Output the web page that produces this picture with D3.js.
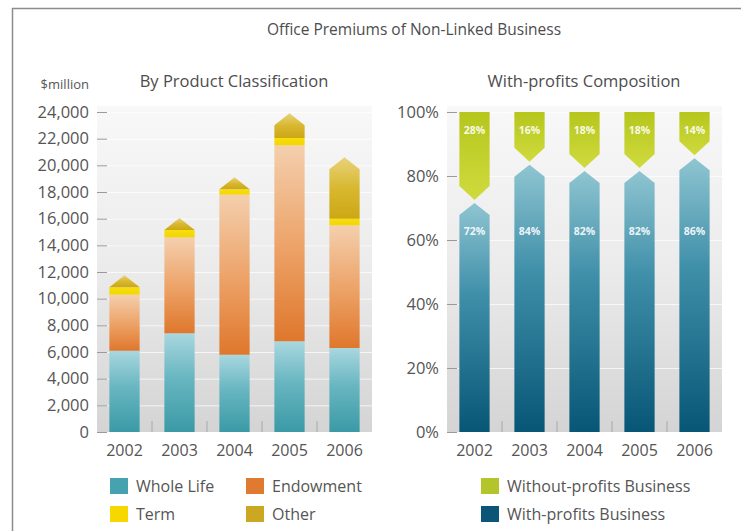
<html>
    <style>
        body { margin: 0; background: #fff; }
        text { font-family: "Open Sans", sans-serif; }
    </style>
    <body>
        <div id="chart"><svg></svg></div>
    </body>
    <script src="https://d3js.org/d3.v7.min.js"></script>
    <script>
    // data
    var years = ["2002", "2003", "2004", "2005", "2006"]
    var wholeLife = [6100, 7400, 5800, 6800, 6300]
    var endowment = [4200, 7200, 12000, 14700, 9200]
    var term = [550, 550, 400, 550, 500]
    var other = [900, 900, 900, 1850, 4600]
    var withProfits = [72, 84, 82, 82, 86]
    var withoutProfits = [28, 16, 18, 18, 14]
    var leftTicks = [0, 2000, 4000, 6000, 8000, 10000, 12000, 14000, 16000, 18000, 20000, 22000, 24000]
    var rightTicks = [0, 20, 40, 60, 80, 100]

    var screen = {width: 741, height: 531}
    var plot = {top: 112, bottom: 432}
    var left = {x0: 97, x1: 372}
    var right = {x0: 447, x1: 722}
    var arrowH = 12

    var svg = d3.select("#chart svg")
                .attr("width", screen.width)
                .attr("height", screen.height)

    var defs = svg.append("defs")
    function grad(id, stops) {
        var g = defs.append("linearGradient").attr("id", id)
            .attr("x1", 0).attr("y1", 0).attr("x2", 0).attr("y2", 1)
        stops.forEach(function(s){
            g.append("stop").attr("offset", s[0]).attr("stop-color", s[1])
        })
    }
    grad("panel", [[0, "#f8f8f8"], [0.5, "#ebebeb"], [1, "#d4d4d4"]])
    grad("gWhole", [[0, "#a9d7df"], [0.45, "#68b6c1"], [1, "#3a9aa6"]])
    grad("gEndow", [[0, "#f4cfad"], [0.55, "#eca064"], [1, "#df772c"]])
    grad("gTerm", [[0, "#f6de10"], [1, "#f3d600"]])
    grad("gOther", [[0, "#e8d27a"], [0.5, "#d8b830"], [1, "#cda714"]])
    grad("gWith", [[0, "#8fc5d1"], [0.4, "#3f8fa9"], [1, "#085676"]])
    grad("gWithout", [[0, "#b6c61c"], [1, "#cfdb3e"]])

    // frame
    svg.append("path")
        .attr("d", "M12.5," + screen.height + "V8.5H" + screen.width)
        .attr("fill", "none")
        .attr("stroke", "#8c8c8c")
        .attr("stroke-width", 1.5)

    svg.append("text")
        .attr("x", 414).attr("y", 35)
        .attr("text-anchor", "middle")
        .attr("font-size", 15.5)
        .attr("fill", "#4d4d4d")
        .text("Office Premiums of Non-Linked Business")

    var yLeft = d3.scaleLinear().domain([0, 24000]).range([plot.bottom, plot.top])
    var yRight = d3.scaleLinear().domain([0, 100]).range([plot.bottom, plot.top])
    var xLeft = d3.scaleBand().domain(years).range([left.x0, left.x1]).paddingInner(0.45).paddingOuter(0.225)
    var xRight = d3.scaleBand().domain(years).range([right.x0, right.x1]).paddingInner(0.45).paddingOuter(0.225)

    function panel(x, x0, x1, y, ticks, fmt, title, titleX) {
        var g = svg.append("g")
        g.append("rect")
            .attr("x", x0).attr("y", plot.top - 6)
            .attr("width", x1 - x0).attr("height", plot.bottom - plot.top + 6)
            .attr("fill", "url(#panel)")
        g.selectAll(".grid").data(ticks).enter().append("line")
            .attr("x1", x0).attr("x2", x1)
            .attr("y1", function(d){return y(d) + 0.5})
            .attr("y2", function(d){return y(d) + 0.5})
            .attr("stroke", "#ffffff")
            .attr("stroke-opacity", 0.7)
        // little separators between the years
        g.selectAll(".sep").data(years.slice(1)).enter().append("line")
            .attr("x1", function(d){return x(d) - x.step() * 0.225})
            .attr("x2", function(d){return x(d) - x.step() * 0.225})
            .attr("y1", plot.bottom - 11).attr("y2", plot.bottom)
            .attr("stroke", "#a8a8a8")
        var axis = d3.axisLeft(y).tickValues(ticks).tickFormat(fmt).tickSize(10).tickPadding(8)
        var a = g.append("g")
            .attr("transform", "translate(" + (x0 + 10) + ",0)")
            .call(axis)
        a.select(".domain").remove()
        a.selectAll(".tick line").attr("stroke", "#9a9a9a")
        a.selectAll(".tick text").attr("fill", "#555").attr("font-size", 16.5)
            .attr("font-family", "Open Sans")
        var xa = g.append("g")
            .attr("transform", "translate(0," + plot.bottom + ")")
            .call(d3.axisBottom(x).tickSize(0).tickPadding(13))
        xa.select(".domain").remove()
        xa.selectAll(".tick text").attr("fill", "#555").attr("font-size", 16)
            .attr("font-family", "Open Sans")
        g.append("text")
            .attr("x", titleX).attr("y", 87)
            .attr("text-anchor", "middle")
            .attr("font-size", 16.5)
            .attr("fill", "#4d4d4d")
            .text(title)
    }

    panel(xLeft, left.x0, left.x1, yLeft, leftTicks, d3.format(","), "By Product Classification", 234)
    panel(xRight, right.x0, right.x1, yRight, rightTicks, function(d){return d + "%"}, "With-profits Composition", 584)

    svg.append("text")
        .attr("x", 89).attr("y", 89)
        .attr("text-anchor", "end")
        .attr("font-size", 13)
        .attr("fill", "#555")
        .text("$million")

    // left stacked bars
    var rows = years.map(function(y, i){
        return {year: y, whole: wholeLife[i], endow: endowment[i], term: term[i], other: other[i]}
    })
    var keys = ["whole", "endow", "term", "other"]
    var fills = {whole: "url(#gWhole)", endow: "url(#gEndow)", term: "url(#gTerm)", other: "url(#gOther)"}
    var stack = d3.stack().keys(keys)(rows)

    var bw = xLeft.bandwidth()
    stack.forEach(function(layer){
        svg.append("g").selectAll("path").data(layer).enter().append("path")
            .attr("fill", fills[layer.key])
            .attr("d", function(d){
                var x0 = xLeft(d.data.year), x1 = x0 + bw
                var yb = yLeft(d[0]), yt = yLeft(d[1])
                if (layer.key != "other") {
                    return "M" + x0 + "," + yb + "V" + yt + "H" + x1 + "V" + yb + "Z"
                }
                var ys = Math.min(yb, yt + arrowH)
                return "M" + x0 + "," + yb + "V" + ys + "L" + (x0 + bw / 2) + "," + yt +
                       "L" + x1 + "," + ys + "V" + yb + "Z"
            })
    })

    // right composition bars
    var bw2 = xRight.bandwidth()
    svg.append("g").selectAll("path").data(years).enter().append("path")
        .attr("fill", "url(#gWith)")
        .attr("d", function(d, i){
            var x0 = xRight(d), x1 = x0 + bw2
            var yt = yRight(withProfits[i]) + 1.5
            return "M" + x0 + "," + plot.bottom + "V" + (yt + arrowH) + "L" + (x0 + bw2 / 2) + "," + yt +
                   "L" + x1 + "," + (yt + arrowH) + "V" + plot.bottom + "Z"
        })
    svg.append("g").selectAll("path").data(years).enter().append("path")
        .attr("fill", "url(#gWithout)")
        .attr("d", function(d, i){
            var x0 = xRight(d), x1 = x0 + bw2
            var ytip = yRight(100 - withoutProfits[i]) - 1.5
            return "M" + x0 + "," + yRight(100) + "V" + (ytip - arrowH - 2) + "L" + (x0 + bw2 / 2) + "," + ytip +
                   "L" + x1 + "," + (ytip - arrowH - 2) + "V" + yRight(100) + "Z"
        })
    svg.append("g").selectAll("text").data(years).enter().append("text")
        .attr("x", function(d){return xRight(d) + bw2 / 2})
        .attr("y", yRight(100) + 22)
        .attr("text-anchor", "middle")
        .attr("font-size", 10.5)
        .attr("font-weight", "bold")
        .attr("fill", "#fff")
        .attr("fill-opacity", 0.9)
        .text(function(d, i){return withoutProfits[i] + "%"})
    svg.append("g").selectAll("text").data(years).enter().append("text")
        .attr("x", function(d){return xRight(d) + bw2 / 2})
        .attr("y", yRight(61.5))
        .attr("text-anchor", "middle")
        .attr("font-size", 10.5)
        .attr("font-weight", "bold")
        .attr("fill", "#fff")
        .attr("fill-opacity", 0.9)
        .text(function(d, i){return withProfits[i] + "%"})

    // legends
    var legendItems = [
        {label: "Whole Life", color: "#46a2ae", x: 110, y: 478},
        {label: "Endowment", color: "#e07a30", x: 246, y: 478},
        {label: "Term", color: "#f6d800", x: 110, y: 506},
        {label: "Other", color: "#cba822", x: 246, y: 506},
        {label: "Without-profits Business", color: "#b4c52c", x: 481, y: 478},
        {label: "With-profits Business", color: "#0b5676", x: 481, y: 506}
    ]
    var lg = svg.append("g").selectAll("g").data(legendItems).enter().append("g")
        .attr("transform", function(d){return "translate(" + d.x + "," + d.y + ")"})
    lg.append("rect")
        .attr("width", 18).attr("height", 16)
        .attr("fill", function(d){return d.color})
    lg.append("text")
        .attr("x", 26).attr("y", 14)
        .attr("font-size", 16)
        .attr("fill", "#555")
        .text(function(d){return d.label})
    </script>
</html>
